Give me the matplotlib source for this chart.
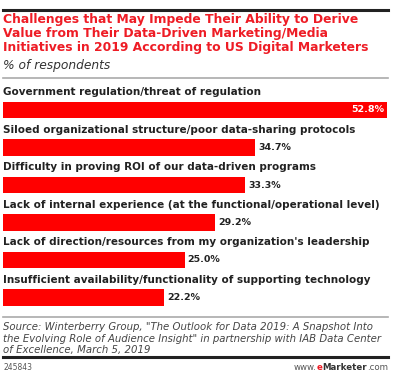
import matplotlib
matplotlib.use("Agg")
import matplotlib.pyplot as plt
from matplotlib.lines import Line2D

categories = [
    "Government regulation/threat of regulation",
    "Siloed organizational structure/poor data-sharing protocols",
    "Difficulty in proving ROI of our data-driven programs",
    "Lack of internal experience (at the functional/operational level)",
    "Lack of direction/resources from my organization's leadership",
    "Insufficient availability/functionality of supporting technology",
]
values = [52.8, 34.7, 33.3, 29.2, 25.0, 22.2]

title_lines = [
    "Challenges that May Impede Their Ability to Derive",
    "Value from Their Data-Driven Marketing/Media",
    "Initiatives in 2019 According to US Digital Marketers",
]
subtitle = "% of respondents"
source_lines = [
    'Source: Winterberry Group, "The Outlook for Data 2019: A Snapshot Into',
    'the Evolving Role of Audience Insight" in partnership with IAB Data Center',
    "of Excellence, March 5, 2019",
]
chart_id = "245843"

W, H = 395, 378
fig = plt.figure(figsize=(W / 100, H / 100), dpi=100)
fig.patch.set_facecolor("white")


def fx(px):
    return px / W


def fy(py):
    return 1 - py / H


red = "#ee1c25"
bar_red = "#ff0000"

# rules
fig.add_artist(Line2D([fx(3), fx(388)], [fy(10), fy(10)], color="#222222", lw=2.2))
fig.add_artist(Line2D([fx(3), fx(388)], [fy(78), fy(78)], color="#aaaaaa", lw=1.2))
fig.add_artist(Line2D([fx(3), fx(388)], [fy(317), fy(317)], color="#aaaaaa", lw=1.2))
fig.add_artist(Line2D([fx(3), fx(388)], [fy(357), fy(357)], color="#222222", lw=2.2))

# title
for i, line in enumerate(title_lines):
    fig.text(fx(3), fy(20 + i * 14), line, color=red, fontsize=8.9,
             fontweight="bold", va="center", ha="left")
fig.text(fx(3), fy(65), subtitle, color="#333333", fontsize=8.8,
         style="italic", va="center", ha="left")

# bars
ax = fig.add_axes([fx(3), fy(316.25), fx(384), (316.25 - 91.25) / H])
ypos = list(range(len(values)))
ax.barh(ypos, values, height=0.45, color=bar_red)
ax.set_xlim(0, 52.8)
ax.set_ylim(len(values) - 0.5, -0.5)
ax.axis("off")

for i, (cat, v) in enumerate(zip(categories, values)):
    ax.text(0, i - 0.47, cat, fontsize=7.45, fontweight="bold",
            color="#222222", va="center", ha="left")
    if i == 0:
        ax.text(v - 0.4, i, f"{v:.1f}%", fontsize=6.8, fontweight="bold",
                color="white", va="center", ha="right")
    else:
        ax.text(v + 0.4, i, f"{v:.1f}%", fontsize=6.8, fontweight="bold",
                color="#222222", va="center", ha="left")

# source
for i, line in enumerate(source_lines):
    fig.text(fx(3), fy(327 + i * 11.5), line, color="#444444", fontsize=7.25,
             style="italic", va="center", ha="left")
fig.text(fx(3), fy(367), chart_id, color="#555555", fontsize=5.5,
         va="center", ha="left")

# www.eMarketer.com, built right to left
renderer = fig.canvas.get_renderer()
x_right = 388
for piece, color, weight in [(".com", "#555555", "normal"),
                             ("Marketer", "#333333", "bold"),
                             ("e", red, "bold"),
                             ("www.", "#555555", "normal")]:
    t = fig.text(fx(x_right), fy(367), piece, color=color, fontsize=6.2,
                 fontweight=weight, va="center", ha="right")
    x_right -= t.get_window_extent(renderer).width

fig.savefig("out.png", dpi=100)
